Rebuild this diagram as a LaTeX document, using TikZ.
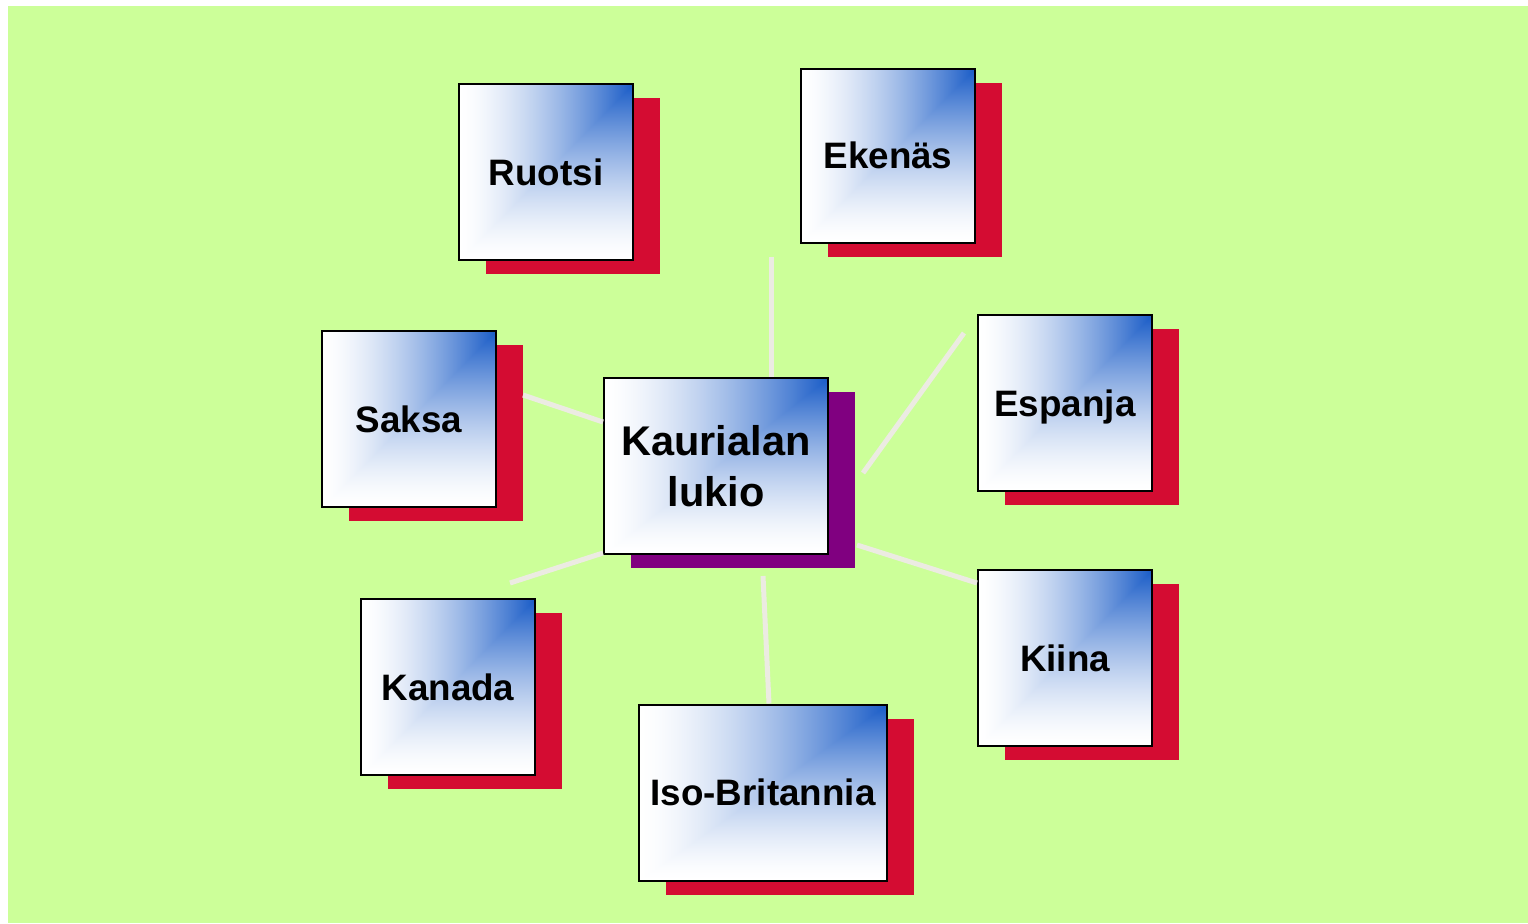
\documentclass[tikz,border=0pt]{standalone}
\usepackage{fontspec}
\setmainfont{Liberation Sans}
\usetikzlibrary{shadows}
\definecolor{bggreen}{RGB}{204,255,153}
\definecolor{shadowred}{RGB}{212,12,50}
\definecolor{hubpurple}{RGB}{128,0,128}
\definecolor{linkgrey}{RGB}{236,235,226}

% blue in the top right corner, fading to white
\pgfdeclarefunctionalshading{cornerblue}{\pgfpointorigin}{\pgfpoint{100bp}{100bp}}{}{
  75 exch sub exch 75 exch sub
  2 copy lt {exch} if pop
  50 div
  dup 0 lt {pop 0} if dup 1 gt {pop 1} if
  1 exch sub dup sqrt mul
  dup dup
  0.9 mul 1 exch sub
  3 1 roll
  0.64 mul 1 exch sub
  exch 0.22 mul 1 exch sub
}

\tikzset{
  boxbase/.style={draw=black, line width=1pt, shading=cornerblue,
    minimum width=87pt, minimum height=88pt, inner sep=0pt, align=center,
    font=\fontsize{18.4}{22}\selectfont\bfseries},
  country/.style={boxbase, text height=13.2pt, text depth=0pt,
    general shadow={fill=shadowred, shadow xshift=13.5pt, shadow yshift=-7pt}},
  hubbox/.style={boxbase, minimum width=112pt,
    font=\fontsize{20.75}{25.5}\selectfont\bfseries,
    general shadow={fill=hubpurple, shadow xshift=13.5pt, shadow yshift=-7pt}},
  link/.style={draw=linkgrey, line width=2.5pt}
}

\begin{document}
\begin{tikzpicture}[x=0.5pt, y=-0.5pt]
  % background
  \fill[white] (0,0) rectangle (1528,923);
  \fill[bggreen] (8,6) rectangle (1528,923);

  % boxes
  \node[hubbox] (hub) at (716,466) {Kaurialan\\lukio};
  \node[country] (ruotsi) at (546,172) {Ruotsi};
  \node[country, minimum height=87pt] (ekenas) at (888,155.5) {Ekenäs};
  \node[country] (saksa) at (409,419) {Saksa};
  \node[country] (espanja) at (1065,403) {Espanja};
  \node[country] (kanada) at (448,687) {Kanada};
  \node[country, minimum width=124pt] (iso) at (763,792.5) {Iso-Britannia};
  \node[country] (kiina) at (1065,658) {Kiina};

  % links
  \draw[link] ([xshift=-58.5pt, yshift=-6.5pt]ekenas.south) -- ([xshift=27.5pt]hub.north);
  \draw[link] ([xshift=-6.5pt, yshift=35pt]espanja.west) -- ([xshift=17pt, yshift=-3.5pt]hub.east);
  \draw[link] ([xshift=13pt, yshift=12pt]saksa.east) -- ([yshift=22pt]hub.west);
  \draw[link] ([xshift=31pt, yshift=7.5pt]kanada.north) -- ([yshift=1pt]hub.south west);
  \draw[link] ([xshift=23.5pt, yshift=-10.5pt]hub.south) -- ([xshift=3pt]iso.north);
  \draw[link] ([xshift=14pt, yshift=-39.5pt]hub.east) -- ([yshift=-7pt]kiina.north west);
\end{tikzpicture}
\end{document}
